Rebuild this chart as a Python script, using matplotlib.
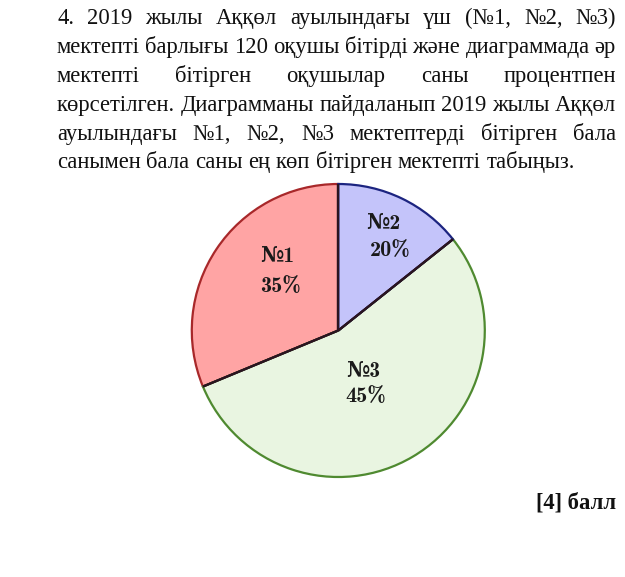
import matplotlib
matplotlib.use("Agg")
import matplotlib.pyplot as plt
import numpy as np

# ---------------- data ----------------
schools = ["№1", "№3", "№2"]
# wedge shares as drawn in the picture (the drawing is not to scale)
drawn_shares = [31.25, 54.45, 14.30]
percent_labels = ["35%", "45%", "20%"]

question_lines = [
    "4. 2019 жылы Аққөл ауылындағы үш (№1, №2, №3)",
    "мектепті барлығы 120 оқушы бітірді және диаграммада әр",
    "мектепті бітірген оқушылар саны процентпен",
    "көрсетілген. Диаграмманы пайдаланып 2019 жылы Аққөл",
    "ауылындағы №1, №2, №3 мектептерді бітірген бала",
    "санымен бала саны ең көп бітірген мектепті табыңыз.",
]
score_text = "[4] балл"

# ---------------- style ----------------
W, H = 625, 577
fill_colors = ["#FFA4A4", "#E9F5E1", "#C4C4FA"]
edge_colors = ["#A8282A", "#4F8A30", "#1C2480"]
# (dx_name, dy_name, dx_pct, dy_pct) in px from the centre
label_offsets = [(-61, 74, -58, 44), (25, -41, 27, -66), (45, 107, 52, 80)]

fig = plt.figure(figsize=(W / 100, H / 100), dpi=100)
fig.patch.set_facecolor("white")

# ---------------- justified text ----------------
left_px, right_px = 57, 616
baselines = [24, 53, 82, 111, 140, 168]
font = "Liberation Serif"
fs = 16.3
renderer = fig.canvas.get_renderer()

def px2fig(x, y):
    return x / W, 1 - y / H

space_t = fig.text(0, 0, "a a", fontsize=fs, family=font)
aa = fig.text(0, 0, "aa", fontsize=fs, family=font)
space_w = space_t.get_window_extent(renderer).width - aa.get_window_extent(renderer).width
space_t.remove(); aa.remove()

for i, line in enumerate(question_lines):
    words = line.split(" ")
    texts = []
    widths = []
    for w in words:
        t = fig.text(0, 0, w, fontsize=fs, family=font, va="baseline", ha="left", color="#111111")
        texts.append(t)
        widths.append(t.get_window_extent(renderer).width)
    last = i == len(question_lines) - 1
    if last or len(words) == 1:
        gap = space_w
    else:
        gap = (right_px - left_px - sum(widths)) / (len(words) - 1)
    x = left_px
    for t, wd in zip(texts, widths):
        t.set_position(px2fig(x, baselines[i]))
        x += wd + gap

fig.text(*px2fig(616, 508), score_text, fontsize=fs, family=font, weight="bold",
         ha="right", va="baseline", color="#111111")

# ---------------- pie ----------------
cx, cy, R = 338.3, 330.5, 146.5
half = 152
ax = fig.add_axes([(cx - half) / W, 1 - (cy + half) / H, 2 * half / W, 2 * half / H])

wedges, _ = ax.pie(drawn_shares, startangle=90, counterclock=True, radius=R,
                   colors=fill_colors, normalize=True,
                   wedgeprops=dict(linewidth=1.6))
for wdg, ec in zip(wedges, edge_colors):
    wdg.set_edgecolor(ec)
ax.set_xlim(-half, half)
ax.set_ylim(-half, half)
ax.set_aspect("equal")
ax.axis("off")

# dark radial lines
for wdg in wedges:
    for ang in (wdg.theta1, wdg.theta2):
        ax.plot([0, R * np.cos(np.radians(ang))], [0, R * np.sin(np.radians(ang))],
                color="#2a1420", lw=1.6, solid_capstyle="butt")

lab_fam = ["cmb10", "DejaVu Serif"]
for name, pct, (dxn, dyn, dxp, dyp) in zip(schools, percent_labels, label_offsets):
    ax.text(dxn, dyn, name, ha="center", va="center", fontsize=15.5,
            family=lab_fam, weight="bold", color="#1a1a1a")
    ax.text(dxp, dyp, pct, ha="center", va="center", fontsize=16,
            family=lab_fam, weight="bold", color="#1a1a1a")

fig.savefig("out.png", dpi=100, facecolor="white")
